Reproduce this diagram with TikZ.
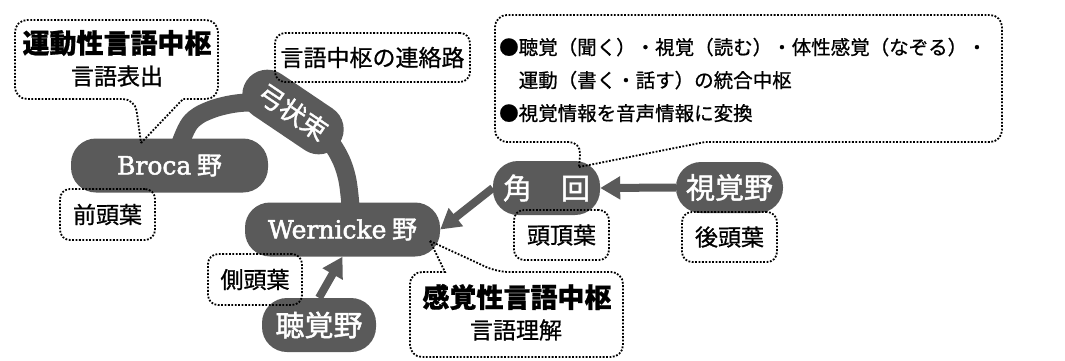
\documentclass[tikz,border=0pt]{standalone}
\usepackage{fontspec}
\setmainfont{Noto Sans CJK JP}[FakeBold=0.8]
\newfontfamily\lat{DejaVu Serif}[FakeBold=2]
\newfontfamily\jpw{Noto Sans CJK JP}[FakeBold=1.5]
\usetikzlibrary{arrows.meta}
\definecolor{dg}{HTML}{5A5A5A}
\begin{document}
\begin{tikzpicture}[x=1pt,y=-1pt,
  area/.style={fill=dg, text=white, rounded corners=25pt, inner sep=0pt,
    minimum height=54pt, font=\jpw\fontsize{29}{30}\selectfont},
  latarea/.style={area, font=\jpw\fontsize{25}{26}\selectfont},
  note/.style={draw, line width=1.8pt, dash pattern=on 1.8pt off 1.6pt,
    rounded corners=10pt, inner sep=0pt, minimum height=50pt,
    font=\fontsize{23}{26}\selectfont},
  callout/.style={draw, line width=1.8pt, dash pattern=on 1.8pt off 1.6pt},
  arr/.style={draw=dg, line width=8pt, -{Triangle[length=20pt,width=22pt]}},
  title/.style={font=\bfseries\fontsize{27}{28}\selectfont, inner sep=0pt},
  sub/.style={font=\fontsize{23}{24}\selectfont, inner sep=0pt},
  arcline/.style={draw=dg, line width=18pt}
]
\useasboundingbox (0,0) rectangle (1065,360);

% arcuate fasciculus
\draw[arcline] plot[smooth, tension=0.6] coordinates {(178,150) (190,123) (210,110) (240,103) (270,104) (293,112) (318,128) (337,152) (347,178) (351,212)};

% dark areas
\node[latarea, minimum width=197pt] (broca) at (169.5,165.5) {{\lat Broca} 野};
\node[latarea, minimum width=195pt] (wernicke) at (342.5,229.5) {{\lat Wernicke} 野};
\node[area, minimum width=107pt] (kakukai) at (546.5,188) {角　回};
\node[area, minimum width=107pt, minimum height=51pt] (shikaku) at (729.5,187.5) {視覚野};
\node[area, minimum width=114pt] (choukaku) at (319,325) {聴覚野};
\node[area, rotate=-34, minimum width=112pt, minimum height=50pt,
  font=\jpw\fontsize{26}{27}\selectfont] (bundle) at (293,112) {弓状束};

% arrows
\draw[arr] (shikaku.west) -- (kakukai.east);
\draw[arr] (kakukai.west) -- (wernicke.east);
\draw[arr] (choukaku.north) -- (wernicke.south);

% small labels
\node[note, minimum width=95pt, minimum height=51pt] (zentou) at (107.5,214.5) {前頭葉};
\node[note, minimum width=94pt, minimum height=51pt] (sokutou) at (255,279.5) {側頭葉};
\node[note, minimum width=95pt] (toucho) at (561.5,235) {頭頂葉};
\node[note, minimum width=95pt] (koutou) at (729.5,237) {後頭葉};
\node[note, minimum width=195pt, minimum height=49pt] (renraku) at (372.5,57.5) {言語中枢の連絡路};

% callout: motor speech center
\draw[callout] (141,143) -- (183,99) [rounded corners=12pt] -- (218,99) -- (218,20) -- (15,20) -- (15,99) -- (135,99) [sharp corners] -- cycle;
\node[title] (motor) at (117,43) {運動性言語中枢};
\node[sub] (motorsub) at (117,76) {言語表出};

% callout: angular gyrus
\draw[callout] (579,167) -- (705,142) [rounded corners=12pt] -- (1002,142) -- (1002,15) -- (495,15) -- (495,142) -- (581,142) [sharp corners] -- cycle;
\node[anchor=west, align=left, inner sep=0pt, font=\fontsize{19.5}{33}\selectfont] (angtext) at (499,80)
  {●聴覚（聞く）・視覚（読む）・体性感覚（なぞる）・\\　運動（書く・話す）の統合中枢\\●視覚情報を音声情報に変換};

% callout: sensory speech center
\draw[callout] (430,241) -- (445,272) [rounded corners=12pt] -- (410,272) -- (410,357) -- (623,357) -- (623,272) -- (497,272) [sharp corners] -- cycle;
\node[title] (sensory) at (517,297) {感覚性言語中枢};
\node[sub] (sensorysub) at (516,330) {言語理解};
\end{tikzpicture}
\end{document}
